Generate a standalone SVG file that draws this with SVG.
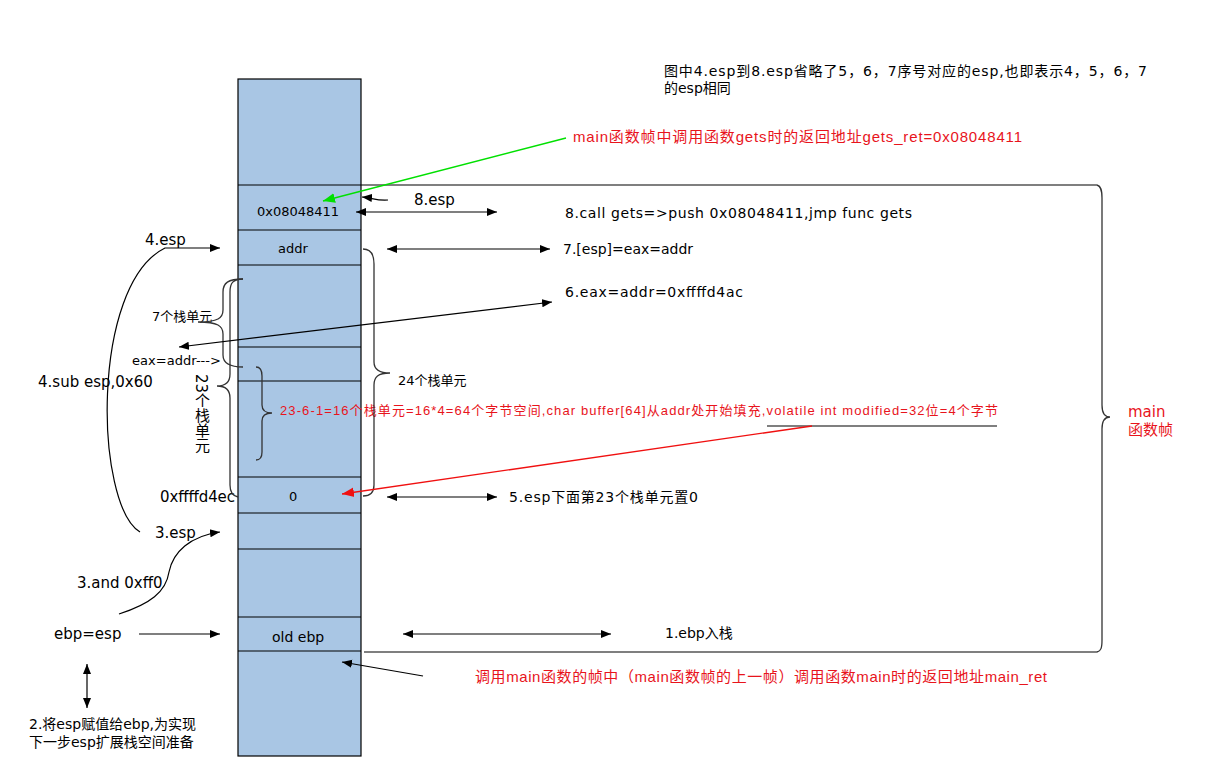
<svg xmlns="http://www.w3.org/2000/svg" width="1205" height="782" viewBox="0 0 1205 782">
<style>
text{font-family:"DejaVu Sans","Noto Sans CJK SC",sans-serif;font-size:14px;fill:#000}
.s{font-size:13px}
.m{font-size:15px}
.red{fill:#e8141c;font-family:"Liberation Sans","Noto Sans CJK SC",sans-serif}
.ln{stroke:#000;stroke-width:1.2;fill:none}
.br{stroke:#333;stroke-width:1.3;fill:none}
.cell{stroke:#000;stroke-width:1.2}
</style>
<defs>
<marker id="ah" viewBox="0 0 10 10" refX="10" refY="5" markerWidth="10" markerHeight="10" markerUnits="userSpaceOnUse" orient="auto-start-reverse"><path d="M0,1 L10,5 L0,9 Z" fill="#000"/></marker>
<marker id="ahg" viewBox="0 0 10 10" refX="10" refY="5" markerWidth="12" markerHeight="12" markerUnits="userSpaceOnUse" orient="auto"><path d="M0,1 L10,5 L0,9 Z" fill="#00e000"/></marker>
<marker id="ahr" viewBox="0 0 10 10" refX="10" refY="5" markerWidth="12" markerHeight="12" markerUnits="userSpaceOnUse" orient="auto"><path d="M0,1 L10,5 L0,9 Z" fill="#f01010"/></marker>
</defs>
<rect width="1205" height="782" fill="#fff"/>

<g id="stack">
<rect x="238" y="79" width="123" height="677" fill="#a9c6e4" class="cell"/>
<g class="cell">
<line x1="238" y1="185" x2="361" y2="185"/>
<line x1="238" y1="230" x2="361" y2="230"/>
<line x1="238" y1="265" x2="361" y2="265"/>
<line x1="238" y1="347" x2="361" y2="347"/>
<line x1="238" y1="381" x2="361" y2="381"/>
<line x1="238" y1="477" x2="361" y2="477"/>
<line x1="238" y1="513" x2="361" y2="513"/>
<line x1="238" y1="549" x2="361" y2="549"/>
<line x1="238" y1="617" x2="361" y2="617"/>
<line x1="238" y1="651" x2="361" y2="651"/>
</g>
</g>
<g id="cell-ret"><text x="257" y="216" style="font-size:13px">0x08048411</text></g>
<g id="cell-addr"><text x="278" y="253" style="font-size:13px">addr</text></g>
<g id="cell-zero"><text x="289" y="501" style="font-size:13px">0</text></g>
<g id="cell-oldebp"><text x="272" y="642">old ebp</text></g>

<g id="main-frame">
<line x1="361" y1="185" x2="1097" y2="185" class="ln"/>
<line x1="364" y1="652" x2="1097" y2="652" class="ln"/>
<path class="br" d="M1097,185 C1101,186 1102,190 1102,198 L1102,405 C1102,413 1104,417 1110,417 C1104,417 1102,421 1102,429 L1102,640 C1102,648 1101,651 1097,652"/>
<text x="1128" y="417" class="red m" style="font-family:'DejaVu Sans','Noto Sans CJK SC',sans-serif">main</text>
<text x="1128" y="435" class="red" style="font-size:15px">函数帧</text>
</g>

<g id="note"><text x="664" y="76" textLength="483">图中4.esp到8.esp省略了5，6，7序号对应的esp,也即表示4，5，6，7</text>
<text x="664" y="93">的esp相同</text></g>

<g id="gets-ret"><text x="573" y="142" class="red" style="font-size:15px" textLength="449">main函数帧中调用函数gets时的返回地址gets_ret=0x08048411</text></g>
<g id="esp8"><text x="414" y="205" class="m">8.esp</text></g>
<g id="call"><text x="565" y="218" textLength="347">8.call gets=&gt;push 0x08048411,jmp func gets</text></g>
<g id="step7"><text x="563" y="254">7.[esp]=eax=addr</text></g>
<g id="step6"><text x="565" y="297" textLength="178">6.eax=addr=0xffffd4ac</text></g>
<g id="step5"><text x="509" y="502" textLength="189">5.esp下面第23个栈单元置0</text></g>
<g id="step1"><text x="665" y="638">1.ebp入栈</text></g>
<g id="esp4"><text x="145" y="245" class="m">4.esp</text></g>
<g id="sub"><text x="38" y="387" class="m">4.sub esp,0x60</text></g>
<g id="esp3"><text x="155" y="538" class="m">3.esp</text></g>
<g id="and"><text x="77" y="588" class="m">3.and 0xff0</text></g>
<g id="ebpesp"><text x="54" y="639" class="m">ebp=esp</text></g>
<g id="step2"><text x="29" y="729">2.将esp赋值给ebp,为实现</text>
<text x="29" y="747">下一步esp扩展栈空间准备</text></g>
<g id="addr-ec"><text x="160" y="502" class="m" textLength="75">0xffffd4ec</text></g>
<g id="u7"><text x="152" y="321" class="s">7个栈单元</text></g>
<g id="eaxaddr"><text x="132" y="365" class="s" textLength="89">eax=addr---&gt;</text></g>
<g id="u23"><text x="201" y="374" style="font-size:15px;writing-mode:vertical-rl">23个栈单元</text></g>
<g id="u24"><text x="398" y="385" class="s">24个栈单元</text></g>
<g id="u16"><text x="280" y="415" class="red" style="font-size:13px" textLength="718">23-6-1=16个栈单元=16*4=64个字节空间,char buffer[64]从addr处开始填充,volatile int modified=32位=4个字节</text></g>
<g id="mainret"><text x="475" y="682" class="red" style="font-size:15px" textLength="572">调用main函数的帧中（main函数帧的上一帧）调用函数main时的返回地址main_ret</text></g>

<g id="braces">
<path class="br" d="M243,279 C228,279 223,283 223,292 L223,310 C223,318 218,322 198,322 M198,322 C218,322 223,326 223,334 L223,355 C223,363 229,367 243,367"/>
<path class="br" d="M243,279 C233,279 230,283 230,292 L230,374 C230,382 226,386 217,386 C226,386 230,390 230,398 L230,485 C230,492 233,496 238,497"/>
<path class="br" d="M256,367 C260,367 262,370 262,376 L262,405 C262,410 265,413 272,413 C265,413 262,416 262,421 L262,452 C262,457 260,460 256,460"/>
<path class="br" d="M363,249 C371,249 374,254 374,264 L374,362 C374,369 378,373 390,373 C378,373 374,377 374,385 L374,485 C374,492 370,496 363,496"/>
</g>

<g id="connectors">
<line x1="566" y1="138" x2="323" y2="201" stroke="#00e000" stroke-width="1.3" marker-end="url(#ahg)"/>
<path class="ln" d="M388,200 C378,201 372,198 362,197" marker-end="url(#ah)"/>
<line class="ln" x1="356" y1="212" x2="497" y2="212" marker-start="url(#ah)" marker-end="url(#ah)"/>
<line class="ln" x1="387" y1="249" x2="550" y2="249" marker-start="url(#ah)" marker-end="url(#ah)"/>
<line class="ln" x1="179" y1="347" x2="552" y2="302" marker-start="url(#ah)" marker-end="url(#ah)"/>
<path class="ln" d="M140,532 C95,505 90,285 165,248 L220,248" marker-end="url(#ah)"/>
<path class="ln" d="M119,614 C150,604 166,592 169,572 C173,552 190,536 220,532" marker-end="url(#ah)"/>
<line class="ln" x1="139" y1="634" x2="220" y2="634" marker-end="url(#ah)"/>
<line class="ln" x1="87" y1="664" x2="87" y2="708" marker-start="url(#ah)" marker-end="url(#ah)"/>
<line class="ln" x1="387" y1="497" x2="497" y2="497" marker-start="url(#ah)" marker-end="url(#ah)"/>
<line class="ln" x1="403" y1="634" x2="611" y2="634" marker-start="url(#ah)" marker-end="url(#ah)"/>
<line class="ln" x1="423" y1="676" x2="342" y2="662" marker-end="url(#ah)"/>
<line class="ln" x1="767" y1="426" x2="997" y2="426"/>
<line x1="812" y1="426" x2="342" y2="494" stroke="#f01010" stroke-width="1.3" marker-end="url(#ahr)"/>
</g>
</svg>
